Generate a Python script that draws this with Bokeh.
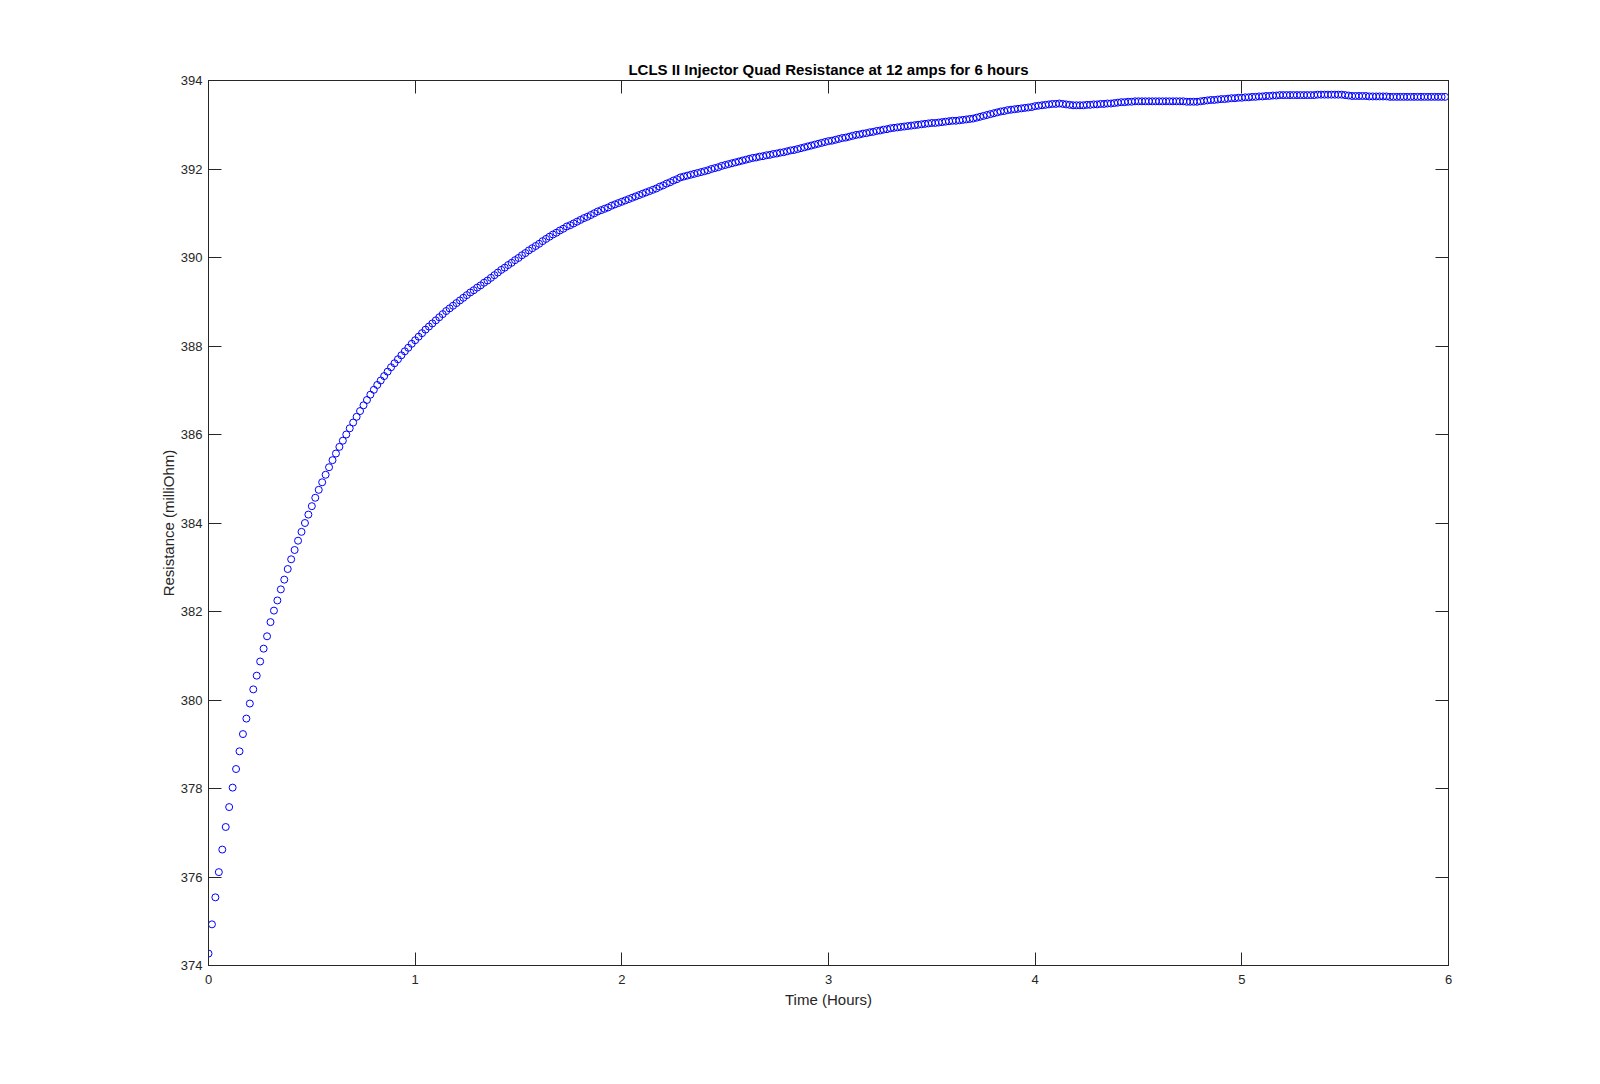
from bokeh.plotting import figure
from bokeh.models import Range1d, FixedTicker, LinearAxis, CustomJSTickFormatter
from bokeh.embed import file_html
from bokeh.resources import INLINE

# ---- data -------------------------------------------------------------
minutes = list(range(360))
hours = [m / 60 for m in minutes]

resistance = [
    374.27, 374.93, 375.54, 376.11, 376.62, 377.13, 377.58, 378.02, 378.44, 378.84,
    379.23, 379.58, 379.92, 380.24, 380.55, 380.87, 381.16, 381.44, 381.76, 382.02,
    382.25, 382.50, 382.72, 382.96, 383.18, 383.39, 383.60, 383.80, 384.00, 384.19,
    384.38, 384.57, 384.75, 384.92, 385.09, 385.26, 385.42, 385.57, 385.72, 385.86,
    386.00, 386.14, 386.27, 386.40, 386.53, 386.66, 386.78, 386.90, 387.01, 387.12,
    387.22, 387.32, 387.42, 387.52, 387.61, 387.70, 387.79, 387.88, 387.96, 388.05,
    388.13, 388.21, 388.29, 388.37, 388.44, 388.51, 388.58, 388.65, 388.72, 388.79,
    388.85, 388.91, 388.97, 389.03, 389.09, 389.15, 389.21, 389.26, 389.32, 389.37,
    389.43, 389.48, 389.54, 389.60, 389.66, 389.72, 389.77, 389.83, 389.88, 389.94,
    389.99, 390.05, 390.10, 390.16, 390.21, 390.26, 390.31, 390.37, 390.42, 390.47,
    390.52, 390.56, 390.61, 390.65, 390.70, 390.73, 390.77, 390.81, 390.85, 390.89,
    390.92, 390.96, 391.00, 391.04, 391.07, 391.10, 391.13, 391.17, 391.20, 391.23,
    391.26, 391.29, 391.32, 391.35, 391.38, 391.41, 391.44, 391.47, 391.50, 391.53,
    391.56, 391.60, 391.63, 391.67, 391.70, 391.74, 391.77, 391.81, 391.83, 391.85,
    391.87, 391.89, 391.91, 391.93, 391.95, 391.97, 392.00, 392.02, 392.04, 392.07,
    392.09, 392.11, 392.13, 392.15, 392.17, 392.19, 392.21, 392.23, 392.25, 392.26,
    392.28, 392.29, 392.31, 392.32, 392.34, 392.35, 392.37, 392.38, 392.40, 392.42,
    392.43, 392.45, 392.47, 392.49, 392.51, 392.53, 392.55, 392.57, 392.59, 392.61,
    392.63, 392.64, 392.66, 392.68, 392.70, 392.71, 392.73, 392.75, 392.77, 392.78,
    392.80, 392.81, 392.83, 392.84, 392.86, 392.87, 392.89, 392.90, 392.92, 392.93,
    392.94, 392.95, 392.96, 392.97, 392.98, 392.99, 393.00, 393.01, 393.02, 393.03,
    393.04, 393.04, 393.05, 393.06, 393.07, 393.08, 393.09, 393.09, 393.10, 393.11,
    393.12, 393.13, 393.14, 393.16, 393.18, 393.20, 393.22, 393.24, 393.26, 393.28,
    393.30, 393.31, 393.33, 393.34, 393.35, 393.36, 393.37, 393.38, 393.39, 393.40,
    393.42, 393.43, 393.44, 393.45, 393.46, 393.47, 393.47, 393.48, 393.47, 393.46,
    393.45, 393.44, 393.44, 393.44, 393.44, 393.45, 393.45, 393.46, 393.46, 393.47,
    393.47, 393.48, 393.48, 393.49, 393.50, 393.51, 393.51, 393.52, 393.52, 393.53,
    393.53, 393.53, 393.53, 393.53, 393.53, 393.53, 393.53, 393.53, 393.53, 393.53,
    393.53, 393.53, 393.53, 393.53, 393.52, 393.52, 393.52, 393.52, 393.53, 393.54,
    393.55, 393.56, 393.56, 393.57, 393.58, 393.58, 393.59, 393.60, 393.60, 393.61,
    393.61, 393.62, 393.62, 393.63, 393.63, 393.64, 393.64, 393.65, 393.65, 393.66,
    393.66, 393.67, 393.67, 393.67, 393.67, 393.67, 393.67, 393.67, 393.67, 393.67,
    393.67, 393.67, 393.68, 393.68, 393.68, 393.68, 393.68, 393.68, 393.68, 393.68,
    393.67, 393.66, 393.65, 393.65, 393.65, 393.65, 393.65, 393.64, 393.64, 393.64,
    393.64, 393.64, 393.64, 393.63, 393.63, 393.63, 393.63, 393.63, 393.63, 393.63,
    393.63, 393.63, 393.63, 393.63, 393.63, 393.63, 393.63, 393.63, 393.63, 393.63,
]

x_ticks = [0, 1, 2, 3, 4, 5, 6]
y_ticks = [374, 376, 378, 380, 382, 384, 386, 388, 390, 392, 394]

title_text = "LCLS II Injector Quad Resistance at 12 amps for 6 hours"
x_label = "Time (Hours)"
y_label = "Resistance (milliOhm)"

# ---- figure -----------------------------------------------------------
FONT = "Liberation Sans"
AX = "#262626"

p = figure(
    width=1592, height=1076,
    output_backend="svg", toolbar_location=None,
    x_range=Range1d(0, 6), y_range=Range1d(374, 394),
    min_border_left=208, min_border_right=144,
    min_border_top=80, min_border_bottom=111,
    background_fill_color="white", border_fill_color="white",
)
p.outline_line_color = AX
p.outline_line_width = 1
p.grid.visible = False

p.title.text = title_text
p.title.align = "center"
p.title.text_font = FONT
p.title.text_font_size = "15px"
p.title.text_font_style = "bold"
p.title.text_color = "black"
p.title.standoff = 6

def style_axis(ax, ticks):
    ax.ticker = FixedTicker(ticks=ticks)
    ax.major_tick_in = 13
    ax.major_tick_out = 0
    ax.minor_tick_line_color = None
    ax.major_tick_line_color = AX
    ax.axis_line_color = AX
    ax.major_label_text_font = FONT
    ax.major_label_text_font_size = "13px"
    ax.major_label_text_color = AX
    ax.axis_label_text_font = FONT
    ax.axis_label_text_font_size = "15px"
    ax.axis_label_text_font_style = "normal"
    ax.axis_label_text_color = AX

xa = p.xaxis[0]
style_axis(xa, x_ticks)
xa.axis_label = x_label
xa.major_label_standoff = 9
xa.axis_label_standoff = 4

ya = p.yaxis[0]
style_axis(ya, y_ticks)
ya.axis_label = y_label
ya.major_label_standoff = 6
ya.axis_label_standoff = 1

blank = CustomJSTickFormatter(code="return ''")
top = LinearAxis()
style_axis(top, x_ticks)
top.formatter = blank
top.major_label_standoff = 0
p.add_layout(top, "above")

right = LinearAxis()
style_axis(right, y_ticks)
right.formatter = blank
right.major_label_standoff = 0
p.add_layout(right, "right")

p.scatter(hours, resistance, marker="circle", size=7,
          line_color="#0000FF", line_width=1, fill_color=None)

open("out.html", "w").write(file_html(p, INLINE))
